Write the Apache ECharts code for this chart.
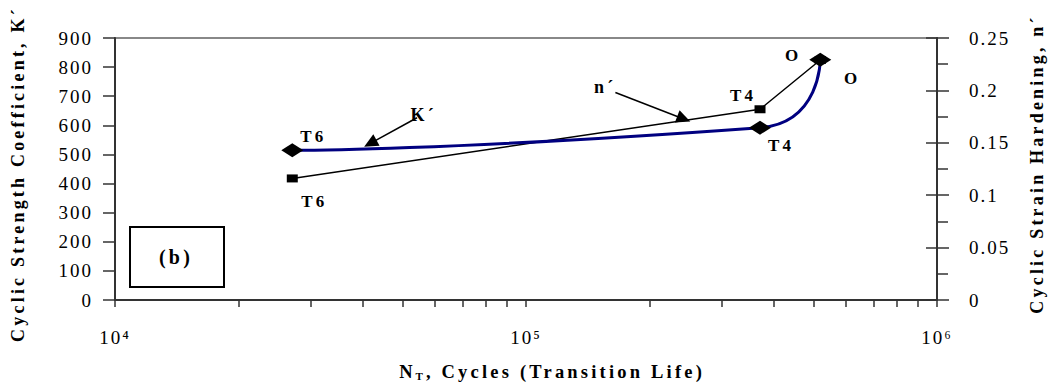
<!DOCTYPE html>
<html><head><meta charset="utf-8">
<script src="https://cdn.jsdelivr.net/npm/echarts@6/dist/echarts.min.js"></script>
<style>
html,body{margin:0;padding:0;background:#fff}
#c{width:1054px;height:386px}
#c text{letter-spacing:2px}
#c text[style*="bold"]{letter-spacing:3.2px}
</style></head><body><div id="c"></div>
<script>
// ---- data ----
const treatments = ['T6', 'T4', 'O'];
const cycles = [27000, 371000, 520000];          // N_T, transition life
const kPrime = [514, 592, 825];                   // cyclic strength coefficient K'
const nPrime = [0.116, 0.182, 0.229];             // cyclic strain hardening n'
const xLabelValues = [1e4, 1e5, 1e6];
const xLabelTexts = ['10⁴', '10⁵', '10⁶'];
const xTickValues = [1e4, 2e4, 3e4, 4e4, 5e4, 6e4, 7e4, 8e4, 9e4,
                     1e5, 2e5, 3e5, 4e5, 5e5, 6e5, 7e5, 8e5, 9e5, 1e6];
// annotation arrows (data coordinates on K' scale)
const arrowKFrom = [54300, 626], arrowKTo = [41800, 538], arrowKText = [56400, 636];
const arrowNFrom = [165000, 713], arrowNTo = [242000, 622], arrowNText = [155800, 731];

// ---- styling ----
const FONT = '"Liberation Serif", "Times New Roman", serif';
const kLabelOffsets = [[21, -14], [21, 18], [32, 19]];
const nLabelOffsets = [[22, 23], [-17, -14], [-27, -5]];
const labelStyle = {show: true, position: 'inside', formatter: '{b}', fontFamily: FONT, fontWeight: 'bold', fontSize: 17, color: '#000'};

const kData = cycles.map((c, i) => ({name: treatments[i], value: [c, kPrime[i]], label: Object.assign({}, labelStyle, {offset: kLabelOffsets[i]})}));
const nData = cycles.map((c, i) => ({name: treatments[i], value: [c, nPrime[i]], label: Object.assign({}, labelStyle, {offset: nLabelOffsets[i]})}));

const chart = echarts.init(document.getElementById('c'), null, {renderer: 'svg'});
const tickLabel = {fontFamily: FONT, fontSize: 19, color: '#000'};
const axisLine = {show: true, lineStyle: {color: '#333', width: 2}};

chart.setOption({
  animation: false,
  backgroundColor: '#fff',
  grid: {left: 115, right: 114, top: 38, bottom: 82, show: true, borderColor: '#888', borderWidth: 2},
  xAxis: {
    type: 'log', logBase: 10, min: 1e4, max: 1e6, splitNumber: 2,
    axisLine: axisLine,
    axisTick: {show: true, length: 7, lineStyle: {color: '#333', width: 1.5}, customValues: xTickValues},
    minorTick: {show: false},
    splitLine: {show: false},
    axisLabel: Object.assign({
      margin: 28,
      formatter: v => {
        const i = xLabelValues.findIndex(x => Math.abs(x - v) / x < 1e-6);
        return i < 0 ? '' : xLabelTexts[i];
      }
    }, tickLabel),
    name: '{n|N}{sub|T}{m|, Cycles (Transition Life)}', nameLocation: 'middle', nameGap: 62,
    nameTextStyle: {fontFamily: FONT, fontWeight: 'bold', fontSize: 18.5, color: '#000', padding: [0, 31, 0, 0],
      rich: {
        n: {fontFamily: FONT, fontWeight: 'bold', fontSize: 18.5, color: '#000', align: 'left', padding: [0, 3, 0, 0]},
        sub: {fontFamily: FONT, fontWeight: 'bold', fontSize: 11, color: '#000', padding: [8, 3, 0, 0], align: 'left'},
        m: {fontFamily: FONT, fontWeight: 'bold', fontSize: 18.5, color: '#000', align: 'left'}
      }}
  },
  yAxis: [
    {
      type: 'value', position: 'left', min: 0, max: 900, interval: 100,
      axisLine: axisLine,
      axisTick: {show: true, length: 12, lineStyle: {color: '#333', width: 1.5}},
      splitLine: {show: false},
      axisLabel: Object.assign({margin: 22}, tickLabel),
      name: 'Cyclic Strength Coefficient, K´', nameLocation: 'middle', nameGap: 88, nameRotate: 90,
      nameTextStyle: {fontFamily: FONT, fontWeight: 'bold', fontSize: 18, color: '#000', padding: [0, 10, 0, 0]}
    },
    {
      type: 'value', position: 'right', min: 0, max: 0.25, interval: 0.05,
      axisLine: axisLine,
      axisTick: {show: true, length: 12, lineStyle: {color: '#333', width: 1.5}},
      minorTick: {show: true, splitNumber: 2, length: 11, lineStyle: {color: '#333', width: 1.5}},
      splitLine: {show: false},
      axisLabel: Object.assign({margin: 32}, tickLabel),
      name: 'Cyclic Strain Hardening, n´', nameLocation: 'middle', nameGap: 91, nameRotate: 90,
      nameTextStyle: {fontFamily: FONT, fontWeight: 'bold', fontSize: 18, color: '#000', padding: [0, 0, 0, 10]}
    },
    {
      type: 'value', position: 'right', min: 0, max: 0.25, interval: 0.05,
      axisLine: {show: false},
      axisTick: {show: true, inside: true, length: 11, lineStyle: {color: '#333', width: 1.5}},
      axisLabel: {show: false}, splitLine: {show: false}
    }
  ],
  series: [
    {
      name: 'n´', type: 'line', yAxisIndex: 1, data: nData,
      symbol: 'rect', symbolSize: [11, 8],
      itemStyle: {color: '#000'},
      lineStyle: {color: '#000', width: 1.5},
      z: 2
    },
    {
      name: 'K´', type: 'line', yAxisIndex: 0, data: kData,
      smooth: 0.8,
      symbol: 'diamond', symbolSize: [22, 14],
      itemStyle: {color: '#000'},
      lineStyle: {color: '#000080', width: 3},
      z: 3,
      markLine: {
        silent: true, symbol: ['none', 'triangle'], symbolSize: [13, 14],
        label: {show: false},
        lineStyle: {color: '#000', width: 1.5, type: 'solid'},
        data: [
          [{coord: arrowKFrom}, {coord: arrowKTo}],
          [{coord: arrowNFrom}, {coord: arrowNTo}]
        ]
      },
      markPoint: {
        silent: true, symbol: 'circle', symbolSize: 1, itemStyle: {color: 'rgba(0,0,0,0)'},
        label: {show: true, position: 'inside', formatter: '{b}', fontFamily: FONT, fontWeight: 'bold', fontSize: 18, color: '#000'},
        data: [
          {name: 'K´', coord: arrowKText},
          {name: 'n´', coord: arrowNText}
        ]
      }
    }
  ],
  graphic: [
    {type: 'rect', shape: {x: 130, y: 227, width: 94, height: 60}, style: {fill: '#fff', stroke: '#000', lineWidth: 2}, z: 10},
    {type: 'text', x: 176, y: 257, style: {text: '(b)', font: 'bold 20px "Liberation Serif", serif', fill: '#000', textAlign: 'center', textVerticalAlign: 'middle'}, z: 11}
  ]
});
</script></body></html>
